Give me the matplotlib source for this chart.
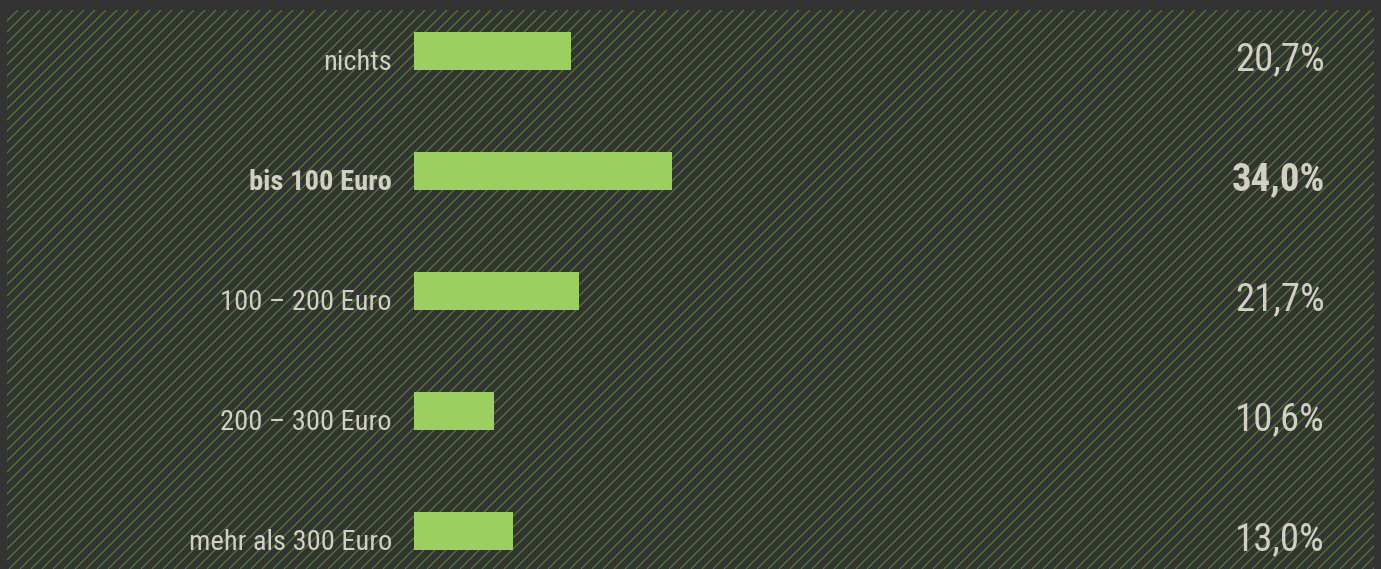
import matplotlib
matplotlib.use("Agg")
import matplotlib.pyplot as plt
from matplotlib import font_manager
from matplotlib.collections import LineCollection
import numpy as np

# data
categories = ["nichts", "bis 100 Euro", "100 – 200 Euro", "200 – 300 Euro", "mehr als 300 Euro"]
values = [20.7, 34.0, 21.7, 10.6, 13.0]
value_labels = ["20,7%", "34,0%", "21,7%", "10,6%", "13,0%"]
highlight = "bis 100 Euro"

# colours
outer_bg = "#333333"
stripe_col = "#4d7a2e"
bar_col = "#9ccf62"
text_col = "#d2cfc4"

# pick a narrow font if there is one
names = {f.name for f in font_manager.fontManager.ttflist}
font = "DejaVu Sans"
for cand in ["Liberation Sans Narrow", "Roboto Condensed", "Open Sans Condensed", "Roboto", "Liberation Sans"]:
    if cand in names:
        font = cand
        break

W, H = 1381, 569
fig = plt.figure(figsize=(W / 100, H / 100), dpi=100, facecolor=outer_bg)

# striped panel behind the chart
pw, ph = 1367, 559
bg = fig.add_axes([7 / W, 0, pw / W, ph / H])
bg.set_xlim(0, pw)
bg.set_ylim(0, ph)
bg.set_facecolor(outer_bg)
bg.axis("off")
segs = []
for k in np.arange(-ph, pw, 11):
    segs.append([(k, 0), (k + ph, ph)])
bg.add_collection(LineCollection(segs, colors=stripe_col, linewidths=0.95))

# bar axes: 0 % sits at x=414 px, 120 % at x=1325 px
ax = fig.add_axes([414 / W, 0, 911 / W, 1])
ax.patch.set_alpha(0)
ax.set_xlim(0, 120)
ax.set_ylim((H - 51) / 120, -51 / 120)
ax.axis("off")

bar_h = 38 / 120
ypos = np.arange(len(categories))
ax.barh(ypos, values, height=bar_h, color=bar_col)

for i, (cat, lab) in enumerate(zip(categories, value_labels)):
    w = "bold" if cat == highlight else "normal"
    base = ypos[i] + bar_h / 2
    ax.text(-2.9, base, cat, ha="right", va="baseline", fontsize=20.5,
            color=text_col, fontweight=w, family=font)
    ax.text(120, base, lab, ha="right", va="baseline", fontsize=28,
            color=text_col, fontweight=w, family=font)

fig.savefig("out.png", dpi=100, facecolor=outer_bg)
